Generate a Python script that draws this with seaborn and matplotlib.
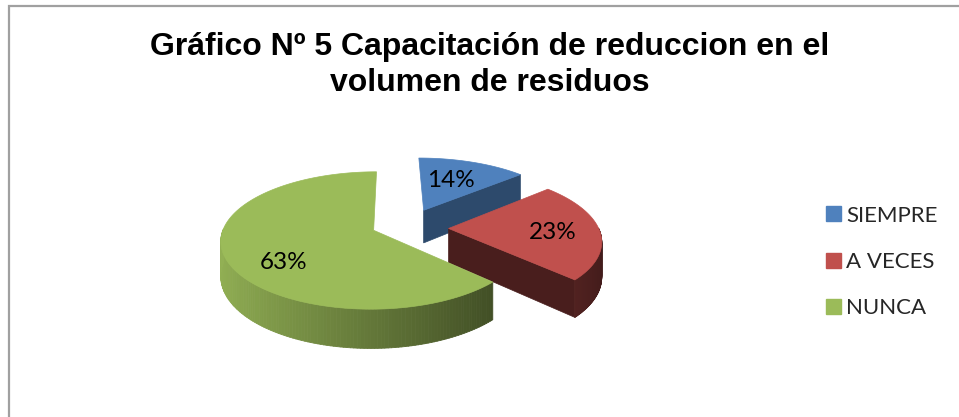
import numpy as np
import matplotlib
matplotlib.use("Agg")
import matplotlib.pyplot as plt
from matplotlib.patches import Polygon, Patch
from matplotlib.collections import PolyCollection
from matplotlib.colors import to_rgb
import seaborn as sns

# Data
categories = ["SIEMPRE", "A VECES", "NUNCA"]
percentages = [14, 23, 63]
title = "Gráfico Nº 5 Capacitación de reduccion en el\nvolumen de residuos"

# Style
sns.set_theme(style="white")
plt.rcParams['font.family'] = ['Lato', 'DejaVu Sans']
colors = sns.color_palette(["#4F81BD", "#C0504D", "#9BBB59"])
explode = [0.50, 0.37, 0.14]
label_r = [0.52, 0.69, 0.62]
label_dy = [-3, 3, 15]
cut_shade = [0.57, 0.38, 0.55]

# pie geometry (pixels)
CX, CY = 393, 228
RX, RY = 150, 68
DEPTH = 34
PERSP = 0.15
EXPLODE_V = 0.6   # explosion is flattened in the depth direction


def proj(u, v, z=0.0):
    s = 1 + PERSP * v
    return CX + u * RX * s, CY + (v * RY + z * DEPTH) * s


def shade(c, f):
    r, g, b = to_rgb(c)
    return (r * f, g * f, b * f)


fig = plt.figure(figsize=(9.59, 4.17), dpi=100)
ax = fig.add_axes([0, 0, 1, 1])
ax.set_xlim(0, 959)
ax.set_ylim(417, 0)
ax.axis("off")

# chart border (left + top)
ax.plot([9, 9, 959], [417, 6, 6], color="#A0A0A0", lw=1.6, solid_joinstyle="miter")

fracs = np.array(percentages) / sum(percentages)
start = 90.0
for i, frac in enumerate(fracs):
    a1 = start
    a2 = start - frac * 360
    start = a2
    mid = np.radians((a1 + a2) / 2)
    ou = explode[i] * np.cos(mid)
    ov = -explode[i] * np.sin(mid) * EXPLODE_V
    ts = np.radians(np.linspace(a1, a2, 200))
    col = colors[i]

    # radial cut walls
    for phi, sign in ((np.radians(a2), 1), (np.radians(a1), -1)):
        # visible when outward normal points toward viewer
        if sign * np.cos(phi) > 0.02:
            pts = [proj(ou, ov, 0), proj(ou + np.cos(phi), ov - np.sin(phi), 0),
                   proj(ou + np.cos(phi), ov - np.sin(phi), 1), proj(ou, ov, 1)]
            ax.add_patch(Polygon(pts, closed=True, fc=shade(col, cut_shade[i]),
                                 ec=shade(col, cut_shade[i]), lw=0.5))

    # outer curved wall (front half only)
    quads, qcols = [], []
    for t0, t1 in zip(ts[:-1], ts[1:]):
        if np.sin(t0) > 0 and np.sin(t1) > 0:
            continue
        p = [proj(ou + np.cos(t0), ov - np.sin(t0), 0),
             proj(ou + np.cos(t1), ov - np.sin(t1), 0),
             proj(ou + np.cos(t1), ov - np.sin(t1), 1),
             proj(ou + np.cos(t0), ov - np.sin(t0), 1)]
        quads.append(p)
        f = 0.64 - 0.30 * np.cos((t0 + t1) / 2)
        qcols.append(shade(col, f))
    if quads:
        ax.add_collection(PolyCollection(quads, facecolors=qcols, edgecolors=qcols, linewidths=0.6))

    # top face
    top = [proj(ou, ov, 0)] + [proj(ou + np.cos(t), ov - np.sin(t), 0) for t in ts]
    ax.add_patch(Polygon(top, closed=True, fc=col, ec=col, lw=0.5))

    # percentage label
    lx, ly = proj(ou + label_r[i] * np.cos(mid), ov - label_r[i] * np.sin(mid), 0)
    ax.text(lx, ly + label_dy[i], f"{percentages[i]}%", ha="center", va="center",
            fontsize=17.5, color="black")

# title
ax.text(490, 65, title, ha="center", va="center", fontsize=23, fontweight="bold",
        family=["Liberation Sans", "DejaVu Sans"], linespacing=1.25, color="black")

# legend
handles = [Patch(fc=c, ec=c) for c in colors]
ax.legend(handles, categories, loc="center left", bbox_to_anchor=(826 / 959, 1 - 262 / 417),
          bbox_transform=fig.transFigure, frameon=False, fontsize=16, borderpad=0,
          borderaxespad=0, handlelength=0.68, handleheight=0.68, handletextpad=0.23,
          labelspacing=1.19)

fig.savefig("out.png", dpi=100)
